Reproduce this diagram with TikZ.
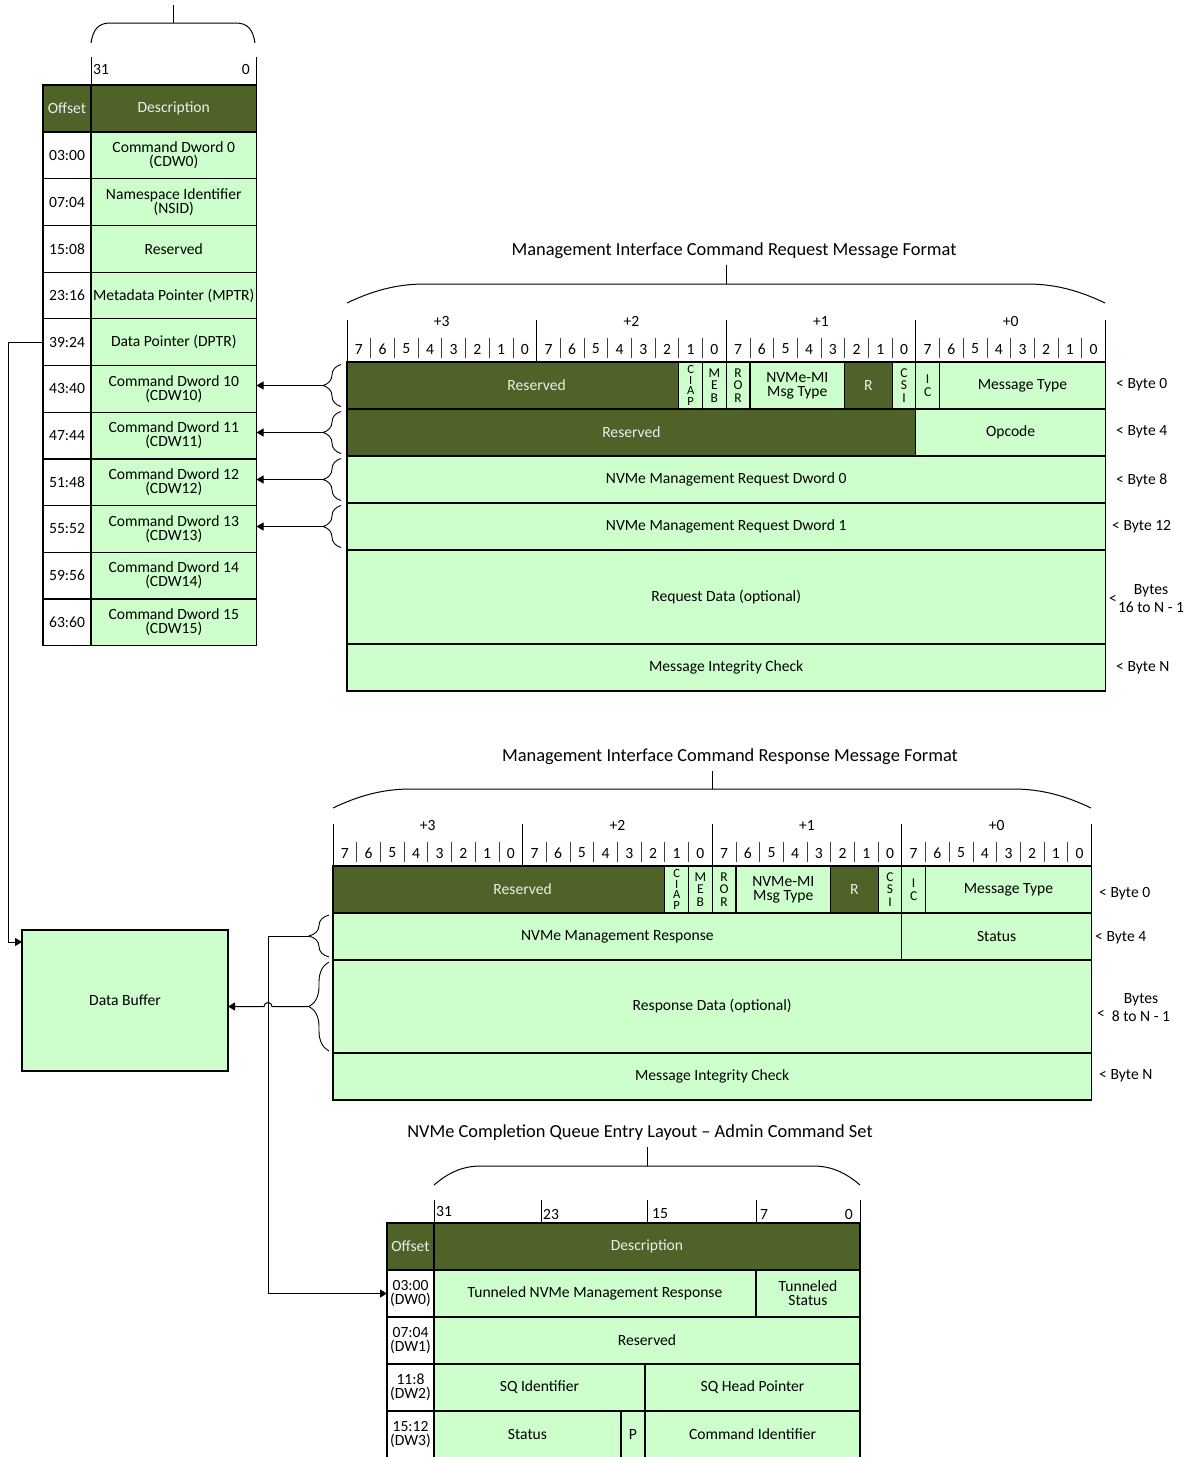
\documentclass[tikz,border=0pt]{standalone}
\usepackage{fontspec}
\setmainfont{Carlito}
\usetikzlibrary{arrows.meta,decorations.pathreplacing}
\definecolor{lgreen}{HTML}{CCFFCC}
\definecolor{dgreen}{HTML}{4F6228}

\begin{document}
\begin{tikzpicture}[x=1pt,y=-1pt,
  cell/.style={draw,line width=1.2pt,fill=lgreen,inner sep=0pt,outer sep=0pt,
    anchor=north west,align=center,font=\fontsize{15.6}{14}\selectfont},
  sz/.style 2 args={minimum width=#1pt,minimum height=#2pt},
  dark/.style={cell,fill=dgreen,text=white!93!black},
  offs/.style={cell,fill=white},
  vstack/.style={font=\fontsize{12.5}{10.5}\selectfont},
  narrow/.style={font=\fontsize{13.5}{12.5}\selectfont},
  lbl/.style={inner sep=0pt,font=\fontsize{15.6}{18}\selectfont,align=center},
  heading/.style={inner sep=0pt,font=\fontsize{18.4}{20}\selectfont},
  bittick/.style={line width=0.9pt},
  bitsep/.style={line width=0.8pt,draw=black!75},
  hood/.style={line width=1pt},
  brc/.style={decorate,decoration={brace,amplitude=18pt},line width=0.9pt},
  conn/.style={line width=1pt},
  arr/.style={conn,-{Triangle[length=7pt,width=8pt]}}]

  \useasboundingbox (0,0) rectangle (1193,1457);

  % command table
  \draw[hood] (91,43) .. controls (93,30) and (98,23) .. (110,23) -- (236,23) .. controls (248,23) and (253,30) .. (255,43);
  \draw[hood] (173,5) -- (173,23);
  \draw[bittick] (91,57) -- (91,85) (256.5,57) -- (256.5,85);
  \node[lbl,anchor=west] (ct-hi) at (93,69) {31};
  \node[lbl,anchor=east] (ct-lo) at (250,69) {0};
  \node[dark,sz={48}{47}] (ct-off) at (43,85) {Offset};
  \node[dark,sz={165.5}{47}] (ct-dsc) at (91,85) {Description};
  \foreach \o/\d [count=\i] in {03:00/{Command Dword 0\\(CDW0)},
      07:04/{Namespace Identifier\\(NSID)}, 15:08/Reserved,
      23:16/Metadata Pointer (MPTR), 39:24/Data Pointer (DPTR),
      43:40/{Command Dword 10\\(CDW10)}, 47:44/{Command Dword 11\\(CDW11)},
      51:48/{Command Dword 12\\(CDW12)}, 55:52/{Command Dword 13\\(CDW13)},
      59:56/{Command Dword 14\\(CDW14)}, 63:60/{Command Dword 15\\(CDW15)}}{
    \pgfmathsetmacro\yt{132+46.7*(\i-1)}
    \node[offs,sz={48}{46.7}] (off\i) at (43,\yt) {\o};
    \node[cell,sz={165.5}{46.7}] (dsc\i) at (91,\yt) {\d};
  }

  % message headers, request and response
  \node[heading] (rq-title) at (734,251) {Management Interface Command Request Message Format};
  \draw[hood] (726,265) -- (726,284);
  \draw[hood] (347,303) .. controls (372,291) and (396,284) .. (425,284) -- (1027,284) .. controls (1056,284) and (1080,291) .. (1105,303);
  \node[heading] (rs-title) at (730,757) {Management Interface Command Response Message Format};
  \draw[hood] (712,771) -- (712,789);
  \draw[hood] (333,808) .. controls (358,796) and (382,789) .. (411,789) -- (1013,789) .. controls (1042,789) and (1066,796) .. (1091,808);

  \foreach \p/\xo/\yo in {rq/347/362,rs/333/866}{
    \foreach \b in {0,...,3}
      \node[lbl] (\p-by\b) at (\xo+94.8+189.6*\b,\yo-41) {+\the\numexpr3-\b\relax};
    \foreach \c in {0,...,31}{
      \pgfmathtruncatemacro\bit{7-mod(\c,8)}
      \node[lbl] (\p-bit\c) at (\xo+11.85+23.7*\c,\yo-13) {\bit};
      \pgfmathtruncatemacro\m{mod(\c,8)}
      \ifnum\m>0 \draw[bitsep] (\xo+23.7*\c,\yo-24) -- (\xo+23.7*\c,\yo-4); \fi
    }
    \foreach \c in {0,8,...,32}
      \draw[bittick] (\xo+23.7*\c,\yo-42) -- (\xo+23.7*\c,\yo);
    \node[dark,sz={331.8}{47}] (\p-res) at (\xo,\yo) {\hspace*{47.4pt}Reserved};
    \node[cell,vstack,sz={23.7}{47}] (\p-ciap) at (\xo+331.8,\yo) {C\\I\\A\\P};
    \node[cell,narrow,sz={23.7}{47}] (\p-meb) at (\xo+355.5,\yo) {M\\E\\B};
    \node[cell,narrow,sz={23.7}{47}] (\p-ror) at (\xo+379.2,\yo) {R\\O\\R};
    \node[cell,sz={94.8}{47}] (\p-mt) at (\xo+402.9,\yo) {NVMe-MI\\Msg Type};
    \node[dark,sz={47.4}{47}] (\p-r) at (\xo+497.7,\yo) {R};
    \node[cell,narrow,sz={23.7}{47}] (\p-csi) at (\xo+545.1,\yo) {C\\S\\I};
    \node[cell,narrow,sz={23.7}{47}] (\p-ic) at (\xo+568.8,\yo) {I\\C};
    \node[cell,sz={165.9}{47}] (\p-typ) at (\xo+592.5,\yo) {Message Type};
  }

  % request rows
  \node[dark,sz={568.8}{47}] (rq-res4) at (347,409) {Reserved};
  \node[cell,sz={189.6}{47}] (rq-opc) at (915.8,409) {Opcode};
  \node[cell,sz={758.4}{47}] (rq-dw0) at (347,456) {NVMe Management Request Dword 0};
  \node[cell,sz={758.4}{47}] (rq-dw1) at (347,503) {NVMe Management Request Dword 1};
  \node[cell,sz={758.4}{94}] (rq-data) at (347,550) {Request Data (optional)};
  \node[cell,sz={758.4}{47}] (rq-mic) at (347,644) {Message Integrity Check};
  \node[lbl,anchor=west] (rq-b0) at (1116,385) {< Byte 0};
  \node[lbl,anchor=west] (rq-b4) at (1116,432) {< Byte 4};
  \node[lbl,anchor=west] (rq-b8) at (1116,480) {< Byte 8};
  \node[lbl,anchor=west] (rq-b12) at (1112,527) {< Byte 12};
  \node[lbl,anchor=west] (rq-lt) at (1109,599) {<};
  \node[lbl] (rq-bd) at (1151,599) {Bytes\\16 to N - 1};
  \node[lbl,anchor=west] (rq-bn) at (1116,668) {< Byte N};

  % response rows
  \node[cell,sz={568.8}{47}] (rs-rsp) at (333,913) {NVMe Management Response};
  \node[cell,sz={189.6}{47}] (rs-sts) at (901.8,913) {Status};
  \node[cell,sz={758.4}{93}] (rs-data) at (333,960) {Response Data (optional)};
  \node[cell,sz={758.4}{47}] (rs-mic) at (333,1053) {Message Integrity Check};
  \node[lbl,anchor=west] (rs-b0) at (1099,894) {< Byte 0};
  \node[lbl,anchor=west] (rs-b4) at (1095,938) {< Byte 4};
  \node[lbl,anchor=west] (rs-lt) at (1097,1014) {<};
  \node[lbl] (rs-bd) at (1141,1007.5) {Bytes\\8 to N - 1};
  \node[lbl,anchor=west] (rs-bn) at (1099,1076) {< Byte N};

  % completion queue entry
  \node[heading] (cq-title) at (640,1133) {NVMe Completion Queue Entry Layout – Admin Command Set};
  \draw[hood] (647,1147) -- (647,1166);
  \draw[hood] (434,1185) .. controls (448,1173) and (462,1166) .. (481,1166) -- (813,1166) .. controls (832,1166) and (846,1173) .. (860,1185);
  \foreach \x in {434,541,647,756,860}
    \draw[bittick] (\x,1200) -- (\x,1223);
  \node[lbl,anchor=west] (cq-31) at (436,1211) {31};
  \node[lbl,anchor=west] (cq-23) at (543,1214) {23};
  \node[lbl,anchor=west] (cq-15) at (652,1214) {15};
  \node[lbl,anchor=west] (cq-7) at (760,1214) {7};
  \node[lbl,anchor=east] (cq-0) at (853,1214) {0};
  \node[dark,sz={47}{47}] (cq-off) at (387,1223) {Offset};
  \node[dark,sz={426}{47}] (cq-dsc) at (434,1223) {Description};
  \foreach \o [count=\i] in {{03:00\\(DW0)},{07:04\\(DW1)},{11:8\\(DW2)},{15:12\\(DW3)}}{
    \pgfmathsetmacro\yt{1270+47*(\i-1)}
    \node[offs,sz={47}{47}] (cq-o\i) at (387,\yt) {\o};
  }
  \node[cell,sz={322}{47}] (cq-rsp) at (434,1270) {Tunneled NVMe Management Response};
  \node[cell,sz={104}{47}] (cq-tst) at (756,1270) {Tunneled\\Status};
  \node[cell,sz={426}{47}] (cq-res) at (434,1317) {Reserved};
  \node[cell,sz={211}{47}] (cq-sqid) at (434,1364) {SQ Identifier};
  \node[cell,sz={215}{47}] (cq-sqhd) at (645,1364) {SQ Head Pointer};
  \node[cell,sz={187}{47}] (cq-sts) at (434,1411) {Status};
  \node[cell,sz={24}{47}] (cq-p) at (621,1411) {P};
  \node[cell,sz={215}{47}] (cq-cid) at (645,1411) {Command Identifier};

  % data buffer and connectors
  \node[cell,sz={206}{141}] (buf) at (22,930) {Data Buffer};
  \draw[arr] (off5.west) -- ++(-35,0) |- ([yshift=-12pt]buf.north west);
  \foreach \k/\r in {0/6,1/7,2/8,3/9}{
    \pgfmathsetmacro\ym{385.5+47*\k}
    \draw[brc] (341,\ym+21) -- (341,\ym-21);
    \coordinate (rqb\k) at (323,\ym);
    \draw[arr] (rqb\k) -- (rqb\k -| dsc\r.east);
  }
  \draw[brc,decoration={amplitude=20pt}] (329,957) -- (329,915);
  \draw[brc,decoration={amplitude=20pt}] (329,1051) -- (329,962);
  \coordinate (rsb0) at (309,936);
  \coordinate (rsb1) at (309,1006.5);
  \coordinate (bus) at (268,936);
  \coordinate (hop) at (272,1006.5);
  \draw[arr] (rsb0) -- (bus) |- (cq-o1.west);
  \draw[arr] (rsb1) -- (hop) arc[start angle=0,end angle=180,radius=4pt] -- (buf.east |- rsb1);
\end{tikzpicture}
\end{document}
